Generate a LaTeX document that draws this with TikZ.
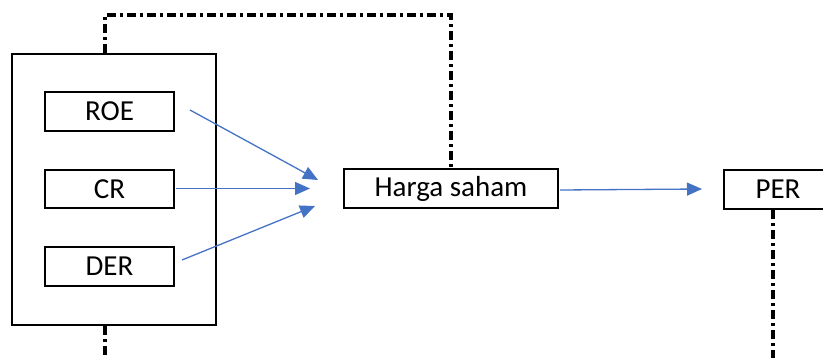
\documentclass[tikz,border=0pt]{standalone}
\usepackage{fontspec}
\setmainfont{Carlito}
\usetikzlibrary{arrows.meta,calc}
\definecolor{linkblue}{RGB}{68,114,196}
\tikzset{
  box/.style={draw=black,line width=2.5pt,minimum height=39pt,inner sep=0pt,font=\fontsize{29}{32}\selectfont},
  frame/.style={draw=black,line width=2.5pt,inner sep=0pt},
  dd/.style={draw=black,line width=3.4pt,dash pattern=on 9pt off 4pt on 3pt off 4pt},
  flow/.style={draw=linkblue,line width=1.3pt,-{Triangle[length=15pt,width=13pt]}}
}
\begin{document}
\begin{tikzpicture}[x=1pt,y=-1pt]
\useasboundingbox (0,0) rectangle (823,358);
% outer frame holding the three ratios
\node[frame,minimum width=204pt,minimum height=271pt] (grp) at (114,189.5) {};
\node[box,minimum width=129pt] (roe) at (109.5,111.5) {ROE};
\node[box,minimum width=129pt,minimum height=38pt] (cr) at (109.5,189) {CR};
\node[box,minimum width=129pt] (der) at (109.5,266.5) {DER};
\node[box,minimum width=214pt] (harga) at (451,188.5) {Harga saham};
\node[box,minimum width=108pt] (per) at (778,189.5) {PER};
% arrow end points
\coordinate (roeS) at (190,110);
\coordinate (roeT) at (318,180);
\coordinate (crS) at (176,188.5);
\coordinate (crT) at (310,188.5);
\coordinate (derS) at (182,260);
\coordinate (derT) at (315,206);
\coordinate (hS) at (560,190);
\coordinate (hT) at (702,189);
\draw[flow] (roeS) -- (roeT);
\draw[flow] (crS) -- (crT);
\draw[flow] (derS) -- (derT);
\draw[flow] (hS) -- (hT);
% dash-dot feedback lines
\coordinate (topL) at (105,15);
\coordinate (botL) at (105,360);
\coordinate (botR) at (773,360);
\draw[dd] (topL |- grp.north) -- (topL) -| (harga.north);
\draw[dd] (topL |- grp.south) -- (botL);
\draw[dd] (botR |- per.south) -- (botR);
\end{tikzpicture}
\end{document}
